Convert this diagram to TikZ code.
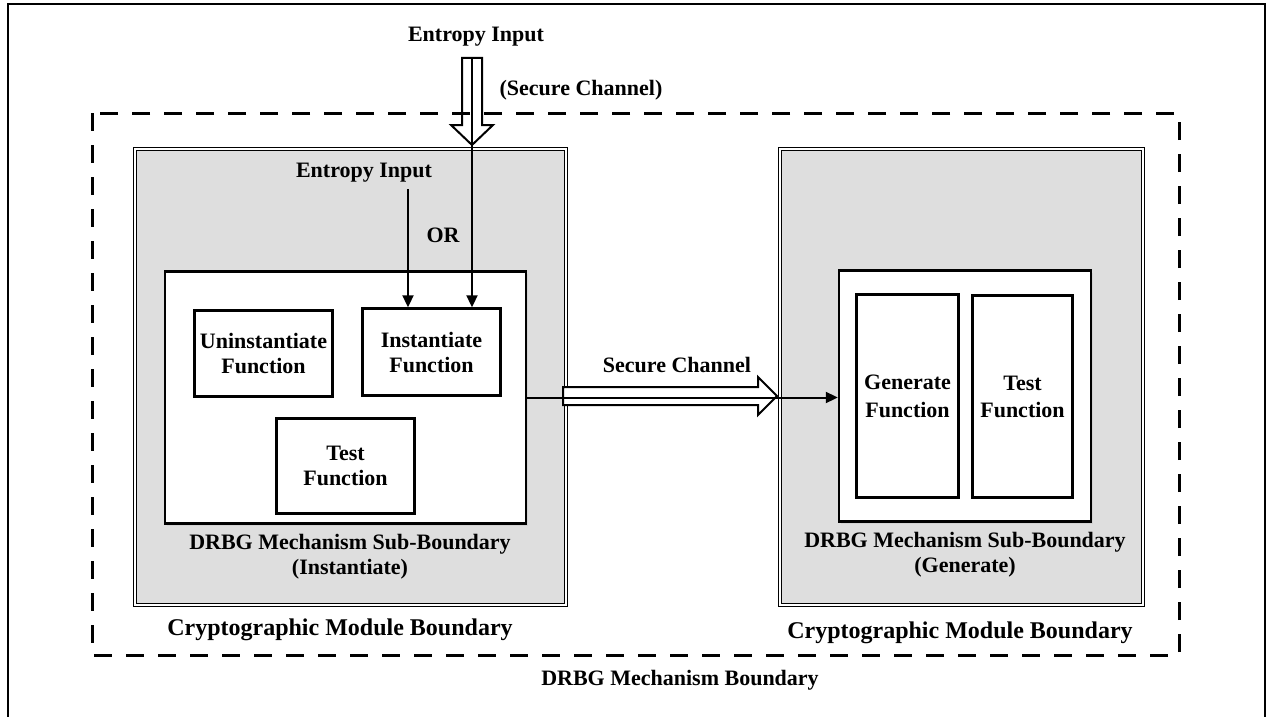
\documentclass[tikz,border=0pt]{standalone}
\usepackage{fontspec}
\setmainfont{Liberation Serif}
\usetikzlibrary{arrows.meta,shadows}

\definecolor{modgray}{RGB}{222,222,222}

\tikzset{
  modbox/.style={draw, double=white, double distance=1.4pt, line width=1.1pt, fill=modgray, inner sep=0pt,
    drop shadow={opacity=0.18, shadow xshift=2pt, shadow yshift=-2pt}},
  subbox/.style={draw, line width=2.4pt, fill=white, inner sep=0pt,
    drop shadow={opacity=0.12, shadow xshift=2pt, shadow yshift=-2pt}},
  funcbox/.style={draw, line width=2.4pt, fill=white, inner sep=0pt, align=center,
    font=\bfseries\fontsize{22}{25}\selectfont},
  lbl/.style={inner sep=0pt, align=center, font=\bfseries\fontsize{22}{25}\selectfont},
  biglbl/.style={inner sep=0pt, align=center, font=\bfseries\fontsize{24}{28}\selectfont},
  bound/.style={line width=3pt, dash pattern=on 18pt off 14pt},
  hollow/.style={line width=2pt, line join=miter},
  conn/.style={line width=2pt, -{Triangle[length=12pt,width=11pt]}}
}

\begin{document}
\begin{tikzpicture}[x=1pt, y=-1pt]
\useasboundingbox (0,0) rectangle (1267,717);
\draw[line width=2pt] (8,717) -- (8,4) -- (1265,4) -- (1265,717);

% modules
\node[modbox, minimum width=431, minimum height=456] (lmod) at (350.5,377) {};
\node[modbox, minimum width=363, minimum height=456] (rmod) at (961.5,377) {};

% mechanism boundary
\draw[bound] (92,113) rectangle (1179,655);

% sub-boundaries
\node[subbox, minimum width=361, minimum height=252] (lsub) at (345.5,397.5) {};
\node[subbox, minimum width=252, minimum height=251] (rsub) at (965,396) {};

% functions
\node[funcbox, minimum width=138, minimum height=86] (uninst) at (263.5,353.5) {Uninstantiate\\Function};
\node[funcbox, minimum width=138, minimum height=87] (inst) at (431.5,352) {Instantiate\\Function};
\node[funcbox, minimum width=138, minimum height=95] (ltest) at (345.5,466) {Test\\Function};
\node[funcbox, minimum width=102, minimum height=203, font=\bfseries\fontsize{22}{28}\selectfont] (gen) at (907.5,396) {Generate\\Function};
\node[funcbox, minimum width=100, minimum height=202, font=\bfseries\fontsize{22}{27}\selectfont] (rtest) at (1022.5,396.5) {Test\\Function};

% secure channels
\draw[hollow] (462,58) -- (482,58) -- (482,125) -- (493,125) -- (472,145) -- (451,125) -- (462,125) -- cycle;
\draw[hollow, fill=white] (563,387) -- (758,387) -- (758,377) -- (777,396) -- (758,415) -- (758,405) -- (563,405) -- cycle;

% labels
\node[lbl] (entin) at (476,37) {Entropy Input};
\node[lbl] (secch) at (581,90) {(Secure Channel)};
\node[lbl] (entin2) at (364,173) {Entropy Input};
\node[lbl] (orlbl) at (443,235) {OR};
\node[lbl] (secch2) at (677,365) {Secure Channel};
\node[lbl] (lsublbl) at (350,557) {DRBG Mechanism Sub-Boundary\\(Instantiate)};
\node[lbl] (rsublbl) at (965,555) {DRBG Mechanism Sub-Boundary\\(Generate)};
\node[biglbl] (lmodlbl) at (340,630) {Cryptographic Module Boundary};
\node[biglbl] (rmodlbl) at (960,633) {Cryptographic Module Boundary};
\node[lbl] (mechlbl) at (680,680) {DRBG Mechanism Boundary};

% connectors
\coordinate (entsrc) at (472,58);
\coordinate (orsrc) at (408,189);
\draw[conn] (entsrc) -- (entsrc |- inst.north);
\draw[conn] (orsrc) -- (orsrc |- inst.north);
\draw[conn] (lsub.east) -- (lsub.east -| rsub.west);
\end{tikzpicture}
\end{document}
